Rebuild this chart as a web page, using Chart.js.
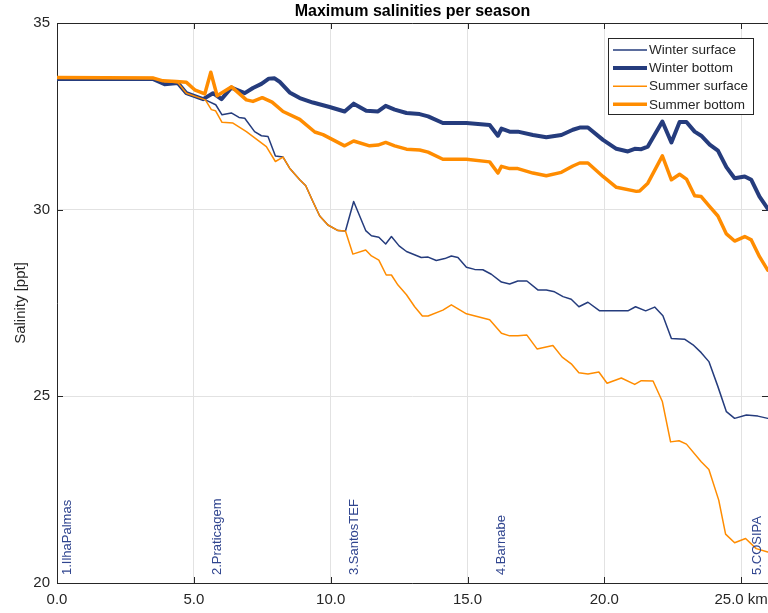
<!DOCTYPE html>
<html>
<head>
<meta charset="utf-8">
<title>Maximum salinities per season</title>
<script src="https://cdn.jsdelivr.net/npm/chart.js@4/dist/chart.umd.min.js"></script>
<style>
  html, body { margin: 0; padding: 0; background: #fff; }
  #wrap { width: 768px; height: 613px; }
</style>
</head>
<body>
<div id="wrap"><canvas id="chart" width="768" height="613"></canvas></div>
<script>
// Distance along the channel [km] and maximum salinity [ppt] for each season / depth
const winterSurfaceKm = [0.00,3.50,3.93,4.42,4.73,5.42,5.80,6.03,6.37,6.65,6.86,7.22,7.47,7.71,7.98,8.26,8.50,8.87,9.09,9.35,9.60,9.90,10.27,10.54,10.84,11.28,11.49,11.76,12.01,12.22,12.50,12.77,13.31,13.56,13.86,14.17,14.41,14.65,14.96,15.26,15.56,15.87,16.24,16.54,16.84,17.17,17.57,17.88,18.18,18.49,18.79,19.07,19.40,19.83,20.86,21.14,21.51,21.84,22.14,22.45,22.93,23.24,23.54,23.82,24.15,24.46,24.76,25.19,25.61,25.97];
const winterSurface   = [33.50,33.50,33.36,33.39,33.10,32.94,32.81,32.54,32.59,32.47,32.45,32.09,31.98,31.96,31.44,31.41,31.11,30.80,30.64,30.22,29.83,29.59,29.44,29.43,30.22,29.44,29.30,29.26,29.08,29.28,29.03,28.88,28.72,28.73,28.64,28.69,28.76,28.72,28.46,28.40,28.39,28.27,28.06,28.01,28.09,28.09,27.85,27.85,27.80,27.67,27.60,27.40,27.52,27.29,27.29,27.40,27.29,27.39,27.16,26.55,26.53,26.38,26.17,25.93,25.26,24.59,24.41,24.50,24.47,24.41];

const winterBottomKm = [0.00,3.50,3.93,4.42,4.73,5.34,5.70,6.01,6.37,6.86,7.16,7.47,7.74,7.95,8.14,8.50,8.87,9.35,9.96,10.51,10.84,11.30,11.73,12.01,12.34,12.77,13.25,13.56,14.10,14.96,15.81,16.11,16.24,16.54,16.84,17.39,17.88,18.43,18.85,19.10,19.40,19.95,20.44,20.86,21.11,21.35,21.59,22.12,22.45,22.75,23.00,23.30,23.54,23.85,24.15,24.46,24.76,25.13,25.37,25.67,25.97];
const winterBottom   = [33.50,33.50,33.36,33.39,33.12,32.96,33.12,32.96,33.27,33.12,33.26,33.37,33.51,33.52,33.42,33.14,32.99,32.87,32.75,32.63,32.84,32.65,32.63,32.78,32.68,32.59,32.56,32.50,32.32,32.32,32.27,31.98,32.17,32.09,32.09,32.00,31.94,32.00,32.14,32.20,32.20,31.87,31.63,31.56,31.63,31.62,31.69,32.36,31.80,32.35,32.35,32.09,31.98,31.74,31.58,31.14,30.84,30.89,30.80,30.35,30.03];

const summerSurfaceKm = [0.00,3.50,3.93,4.42,4.73,5.42,5.64,5.79,6.03,6.43,6.92,7.65,7.98,8.26,8.50,8.87,9.09,9.35,9.60,9.90,10.27,10.54,10.81,11.28,11.49,11.76,12.03,12.22,12.46,12.77,13.07,13.35,13.56,14.10,14.41,14.96,15.81,16.24,16.54,16.84,17.17,17.54,18.12,18.46,18.79,19.07,19.40,19.80,20.10,20.62,21.11,21.35,21.78,22.12,22.42,22.73,23.00,23.54,23.82,24.18,24.43,24.76,25.16,25.55,25.97];
const summerSurface   = [33.54,33.54,33.43,33.40,33.12,32.94,32.68,32.65,32.34,32.32,32.09,31.69,31.29,31.41,31.11,30.80,30.64,30.22,29.83,29.59,29.44,29.43,28.81,28.92,28.76,28.65,28.25,28.25,27.98,27.72,27.40,27.15,27.15,27.31,27.45,27.21,27.05,26.69,26.62,26.62,26.64,26.27,26.36,26.05,25.87,25.63,25.60,25.65,25.35,25.49,25.32,25.42,25.41,24.86,23.78,23.81,23.72,23.25,23.04,22.22,21.31,21.08,21.19,20.92,20.83];

const summerBottomKm = [0.00,3.50,3.87,4.36,4.73,5.05,5.40,5.62,5.85,6.38,6.92,7.16,7.50,7.86,8.26,8.87,9.42,9.72,10.51,10.84,11.42,11.73,12.01,12.34,12.77,13.25,13.56,14.10,14.96,15.81,16.11,16.24,16.54,16.84,17.39,17.88,18.43,18.85,19.10,19.40,19.95,20.44,21.17,21.29,21.59,22.12,22.45,22.75,23.00,23.30,23.54,23.85,24.15,24.46,24.76,25.13,25.37,25.67,25.97];
const summerBottom   = [33.54,33.53,33.45,33.43,33.41,33.20,33.10,33.68,33.05,33.29,32.94,32.90,33.00,32.88,32.63,32.42,32.08,32.01,31.71,31.84,31.71,31.73,31.80,31.71,31.62,31.60,31.54,31.35,31.35,31.28,30.98,31.16,31.10,31.10,30.98,30.91,31.00,31.17,31.25,31.25,30.89,30.60,30.49,30.50,30.71,31.44,30.80,30.95,30.82,30.37,30.35,30.08,29.83,29.35,29.16,29.28,29.19,28.74,28.38];

// Sampling stations along the channel
const stationNames = ['1.IlhaPalmas', '2.Praticagem', '3.SantosTEF', '4.Barnabe', '5.COSIPA'];
const stationKm    = [0.39, 5.88, 10.88, 16.24, 25.59];

// Axis ticks
const xTicks = [0, 5, 10, 15, 20, 25];
const yTicks = [20, 25, 30, 35];

const FONT = "'Liberation Sans', Arial, Helvetica, sans-serif";
const NAVY = '#253c7d';
const ORANGE = '#ff8c00';
const AXIS = '#262626';

function pts(xs, ys) { return xs.map((x, i) => ({ x: x, y: ys[i] })); }

const series = [
  { label: 'Winter surface', km: winterSurfaceKm, v: winterSurface, color: NAVY,   width: 1.5, order: 2 },
  { label: 'Winter bottom',  km: winterBottomKm,  v: winterBottom,  color: NAVY,   width: 4,   order: 3 },
  { label: 'Summer surface', km: summerSurfaceKm, v: summerSurface, color: ORANGE, width: 1.5, order: 0 },
  { label: 'Summer bottom',  km: summerBottomKm,  v: summerBottom,  color: ORANGE, width: 3.5, order: 1 }
];

// Title, axis box, inward tick marks, station names and the legend box
const decorations = {
  id: 'decorations',
  beforeDatasetsDraw(chart) {
    const { ctx, chartArea: a, scales: { x, y } } = chart;
    ctx.save();
    ctx.strokeStyle = AXIS;
    ctx.lineWidth = 1;
    ctx.beginPath();
    ctx.moveTo(a.left + 0.5, a.top + 0.5);
    ctx.lineTo(a.right, a.top + 0.5);
    ctx.moveTo(a.left + 0.5, a.top);
    ctx.lineTo(a.left + 0.5, a.bottom + 0.5);
    ctx.lineTo(a.right, a.bottom + 0.5);
    const tl = 6;
    xTicks.forEach(t => {
      const px = Math.round(x.getPixelForValue(t)) + 0.5;
      ctx.moveTo(px, a.bottom); ctx.lineTo(px, a.bottom - tl);
      ctx.moveTo(px, a.top); ctx.lineTo(px, a.top + tl);
    });
    yTicks.forEach(t => {
      const py = Math.round(y.getPixelForValue(t)) + 0.5;
      ctx.moveTo(a.left, py); ctx.lineTo(a.left + tl, py);
      ctx.moveTo(a.right, py); ctx.lineTo(a.right - tl, py);
    });
    ctx.stroke();
    ctx.restore();
  },
  afterDraw(chart) {
    const { ctx, chartArea: a, scales: { x } } = chart;
    ctx.save();
    // title
    ctx.fillStyle = '#000';
    ctx.font = 'bold 16px ' + FONT;
    ctx.textAlign = 'center';
    ctx.textBaseline = 'middle';
    ctx.fillText('Maximum salinities per season', (a.left + a.right) / 2, 12);

    // station names, written upwards from the bottom of the plot
    ctx.fillStyle = '#30458f';
    ctx.font = '13px ' + FONT;
    ctx.textAlign = 'left';
    ctx.textBaseline = 'middle';
    stationNames.forEach((name, i) => {
      const px = x.getPixelForValue(stationKm[i]);
      ctx.save();
      ctx.translate(px, a.bottom - 8);
      ctx.rotate(-Math.PI / 2);
      ctx.fillText(name, 0, 0);
      ctx.restore();
    });

    // legend
    const bx = 608.5, by = 38.5, bw = 145, bh = 76;
    ctx.fillStyle = '#fff';
    ctx.fillRect(bx, by, bw, bh);
    ctx.strokeStyle = AXIS;
    ctx.lineWidth = 1;
    ctx.strokeRect(bx, by, bw, bh);
    ctx.font = '13.5px ' + FONT;
    ctx.textAlign = 'left';
    ctx.textBaseline = 'middle';
    series.forEach((s, i) => {
      const ly = 50 + i * 18.1;
      ctx.strokeStyle = s.color;
      ctx.lineWidth = s.width;
      ctx.beginPath();
      ctx.moveTo(613, ly);
      ctx.lineTo(647, ly);
      ctx.stroke();
      ctx.fillStyle = AXIS;
      ctx.fillText(s.label, 649, ly + 0.5);
    });
    ctx.restore();
  }
};

new Chart(document.getElementById('chart'), {
  type: 'line',
  data: {
    datasets: series.map(s => ({
      label: s.label,
      data: pts(s.km, s.v),
      borderColor: s.color,
      backgroundColor: s.color,
      borderWidth: s.width,
      pointRadius: 0,
      tension: 0,
      fill: false,
      order: s.order,
      borderJoinStyle: 'round',
      borderCapStyle: 'round'
    }))
  },
  options: {
    responsive: false,
    devicePixelRatio: 1,
    animation: false,
    layout: { padding: { top: 23, right: 0, left: 0, bottom: 0 } },
    plugins: {
      legend: { display: false },
      title: { display: false },
      tooltip: { enabled: false }
    },
    scales: {
      x: {
        type: 'linear',
        position: 'bottom',
        min: 0,
        max: 25.98,
        afterFit(s) { s.height = 30; s.paddingLeft = 0; s.paddingRight = 0; },
        afterBuildTicks(s) { s.ticks = xTicks.map(v => ({ value: v })); },
        grid: { color: '#e2e2e2', drawTicks: false },
        border: { display: false },
        ticks: {
          autoSkip: false,
          maxRotation: 0,
          padding: 8,
          color: AXIS,
          font: { family: FONT, size: 15 },
          callback: v => (v === 25 ? '25.0 km' : Number(v).toFixed(1))
        }
      },
      y: {
        type: 'linear',
        min: 20,
        max: 35,
        afterFit(s) { s.width = 57; s.paddingTop = 0; s.paddingBottom = 0; },
        afterBuildTicks(s) { s.ticks = yTicks.map(v => ({ value: v })); },
        grid: { color: '#e2e2e2', drawTicks: false },
        border: { display: false },
        ticks: {
          padding: 7,
          color: AXIS,
          font: { family: FONT, size: 15 },
          callback: v => String(v)
        },
        title: {
          display: true,
          text: 'Salinity [ppt]',
          color: AXIS,
          font: { family: FONT, size: 15 },
          padding: { top: 12, bottom: 0 }
        }
      }
    }
  },
  plugins: [decorations]
});
</script>
</body>
</html>
